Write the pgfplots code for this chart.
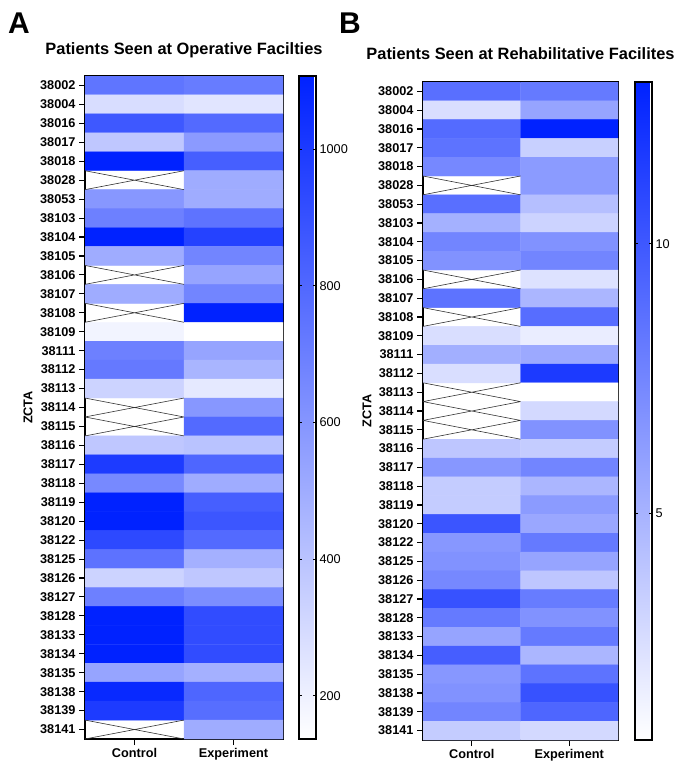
\documentclass[border=0pt]{standalone}
\usepackage{fontspec}
\setmainfont{Liberation Sans}
\usepackage{pgfplots}
\pgfplotsset{compat=1.18}
\usepackage{pgfplotstable}

\pgfplotsset{colormap={wb}{rgb255=(255,255,255) rgb255=(0,34,255)}}

% Panel A: x=0 Control, x=1 Experiment; y = row index (ZCTA)
\pgfplotstableread{
x y c
0 0 740
1 0 710
0 1 285
1 1 250
0 2 865
1 2 785
0 3 380
1 3 575
0 4 1100
1 4 835
0 5 nan
1 5 500
0 6 590
1 6 500
0 7 690
1 7 745
0 8 1100
1 8 960
0 9 500
1 9 670
0 10 nan
1 10 535
0 11 500
1 11 670
0 12 nan
1 12 1100
0 13 185
1 13 137
0 14 690
1 14 535
0 15 720
1 15 460
0 16 330
1 16 235
0 17 nan
1 17 590
0 18 nan
1 18 785
0 19 380
1 19 400
0 20 990
1 20 805
0 21 650
1 21 500
0 22 1100
1 22 835
0 23 1100
1 23 875
0 24 930
1 24 785
0 25 750
1 25 480
0 26 330
1 26 380
0 27 690
1 27 630
0 28 1107
1 28 915
0 29 1107
1 29 915
0 30 1107
1 30 915
0 31 535
1 31 480
0 32 1070
1 32 805
0 33 990
1 33 770
0 34 nan
1 34 500
}\dataA

% Panel B
\pgfplotstableread{
x y c
0 0 8.7
1 0 8.1
0 1 2.6
1 1 5.8
0 2 8.9
1 2 13
0 3 8.5
1 3 3.4
0 4 7.3
1 4 6.3
0 5 nan
1 5 6.3
0 6 8.7
1 6 4.3
0 7 5.1
1 7 3.2
0 8 7.5
1 8 6.8
0 9 6.8
1 9 7.5
0 10 nan
1 10 2.4
0 11 8.5
1 11 4.8
0 12 nan
1 12 8.8
0 13 2.6
1 13 1.8
0 14 5.2
1 14 5.5
0 15 2.6
1 15 11.6
0 16 nan
1 16 0.8
0 17 nan
1 17 2.9
0 18 nan
1 18 6.8
0 19 3.9
1 19 3.6
0 20 6.5
1 20 7.5
0 21 3.6
1 21 4.8
0 22 3.6
1 22 6.3
0 23 10.1
1 23 5.6
0 24 6.5
1 24 8.1
0 25 6.8
1 25 5.8
0 26 7.3
1 26 3.9
0 27 10.3
1 27 8.0
0 28 8.1
1 28 6.8
0 29 5.8
1 29 8.1
0 30 9.6
1 30 4.8
0 31 6.5
1 31 8.5
0 32 6.8
1 32 10.3
0 33 7.5
1 33 9.2
0 34 3.6
1 34 2.9
}\dataB

\pgfplotsset{heat/.style={
  scale only axis,
  y dir=reverse,
  xmin=-0.5, xmax=1.5, ymin=-0.5, ymax=34.5,
  xtick={0,1}, xticklabels={Control,Experiment},
  ytick={0,...,34},
  yticklabels={38002,38004,38016,38017,38018,38028,38053,38103,38104,38105,38106,38107,38108,38109,38111,38112,38113,38114,38115,38116,38117,38118,38119,38120,38122,38125,38126,38127,38128,38133,38134,38135,38138,38139,38141},
  tick align=outside, xtick pos=bottom, ytick pos=left,
  major tick length=6pt,
  tick style={black, line width=1.1pt},
  axis line style={black, line width=1.4pt},
  ticklabel style={font=\bfseries\fontsize{12.7}{14}\selectfont},
  ylabel={ZCTA},
  ylabel style={font=\bfseries\fontsize{12.7}{14}\selectfont, at={(axis description cs:-0.288,0.5)}, anchor=center},
  every axis title shift=0pt,
  title style={font=\bfseries\fontsize{16.4}{18}\selectfont, at={(axis description cs:0.5,1)}, anchor=base},
  colormap name=wb,
  colorbar,
  colorbar style={
    width=17pt,
    at={(parent axis.north east)}, anchor=north west,
    axis line style={black, line width=1.4pt},
    yticklabel pos=right, ytick pos=both,
    tick align=inside, ytick align=inside, major tick length=3pt,
    tick style={black, line width=1pt},
    yticklabel style={font=\fontsize{12.7}{14}\selectfont, /pgf/number format/1000 sep={}},
    /pgf/number format/assume math mode=true,
  },
}}

\begin{document}
\begin{tikzpicture}
\useasboundingbox (0,0) rectangle (681pt,763pt);

\begin{axis}[heat,
  at={(85pt,24pt)}, anchor=south west,
  width=198pt, height=663pt,
  point meta min=137, point meta max=1107,
  colorbar style={ytick={200,400,600,800,1000}, xshift=7.5pt},
  title={Patients Seen at Operative Facilties},
  title style={yshift=21.5pt},
]
\addplot[matrix plot*, mesh/cols=2, point meta=explicit, unbounded coords=jump] table[x=x, y=y, meta=c] {\dataA};
\addplot[black!80, line width=0.6pt, unbounded coords=jump, forget plot] coordinates {
(-0.5,4.5) (0.5,5.5) (nan,nan) (-0.5,5.5) (0.5,4.5) (nan,nan)
(-0.5,9.5) (0.5,10.5) (nan,nan) (-0.5,10.5) (0.5,9.5) (nan,nan)
(-0.5,11.5) (0.5,12.5) (nan,nan) (-0.5,12.5) (0.5,11.5) (nan,nan)
(-0.5,16.5) (0.5,17.5) (nan,nan) (-0.5,17.5) (0.5,16.5) (nan,nan)
(-0.5,17.5) (0.5,18.5) (nan,nan) (-0.5,18.5) (0.5,17.5) (nan,nan)
(-0.5,33.5) (0.5,34.5) (nan,nan) (-0.5,34.5) (0.5,33.5)
};
\end{axis}

\begin{axis}[heat,
  at={(423pt,23pt)}, anchor=south west,
  width=195pt, height=658pt,
  point meta min=0.8, point meta max=13,
  colorbar style={ytick={5,10}, xshift=8.5pt},
  title={Patients Seen at Rehabilitative Facilites},
  title style={yshift=22.5pt},
  ylabel style={at={(axis description cs:-0.287,0.5)}},
]
\addplot[matrix plot*, mesh/cols=2, point meta=explicit, unbounded coords=jump] table[x=x, y=y, meta=c] {\dataB};
\addplot[black!80, line width=0.6pt, unbounded coords=jump, forget plot] coordinates {
(-0.5,4.5) (0.5,5.5) (nan,nan) (-0.5,5.5) (0.5,4.5) (nan,nan)
(-0.5,9.5) (0.5,10.5) (nan,nan) (-0.5,10.5) (0.5,9.5) (nan,nan)
(-0.5,11.5) (0.5,12.5) (nan,nan) (-0.5,12.5) (0.5,11.5) (nan,nan)
(-0.5,15.5) (0.5,16.5) (nan,nan) (-0.5,16.5) (0.5,15.5) (nan,nan)
(-0.5,16.5) (0.5,17.5) (nan,nan) (-0.5,17.5) (0.5,16.5) (nan,nan)
(-0.5,17.5) (0.5,18.5) (nan,nan) (-0.5,18.5) (0.5,17.5)
};
\end{axis}

\node[font=\bfseries\fontsize{30}{32}\selectfont, anchor=base west, inner sep=0pt] at (8pt,729pt) {A};
\node[font=\bfseries\fontsize{30}{32}\selectfont, anchor=base west, inner sep=0pt] at (339pt,729pt) {B};
\end{tikzpicture}
\end{document}
